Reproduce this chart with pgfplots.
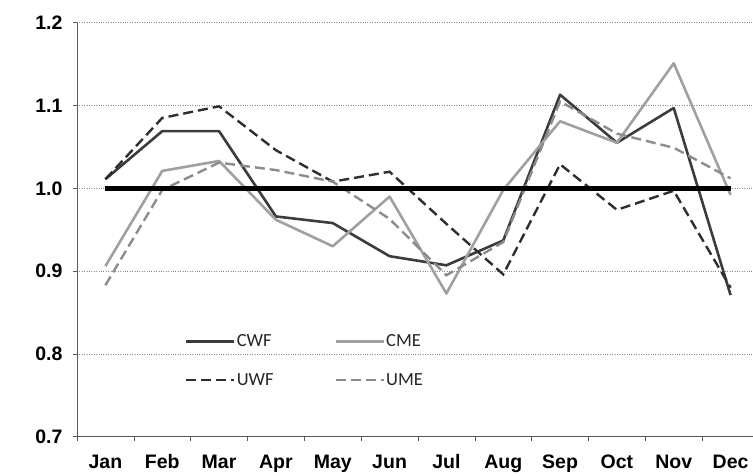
\documentclass[border=0pt]{standalone}
\usepackage{fontspec}
\setmainfont{Liberation Sans}
\newfontfamily\legfont{Carlito}
\usepackage{pgfplots}
\pgfplotsset{compat=1.18}
\definecolor{cwf}{HTML}{3C3C3C}
\definecolor{cme}{HTML}{A0A0A0}
\definecolor{uwf}{HTML}{2E2E2E}
\definecolor{ume}{HTML}{8C8C8C}
\begin{document}
\begin{tikzpicture}
\begin{axis}[
  at={(0,0)}, anchor=south west,
  scale only axis, width=682pt, height=414pt,
  xmin=-0.5, xmax=11.5, ymin=0.7, ymax=1.2,
  xtick={-0.5,0.5,1.5,2.5,3.5,4.5,5.5,6.5,7.5,8.5,9.5,10.5,11.5},
  x tick label as interval,
  xticklabels={Jan,Feb,Mar,Apr,May,Jun,Jul,Aug,Sep,Oct,Nov,Dec},
  ytick={0.7,0.8,0.9,1.0,1.1,1.2},
  yticklabel style={xshift=-7pt, /pgf/number format/.cd, fixed, fixed zerofill, precision=1},
  /pgf/number format/assume math mode=true,
  ticklabel style={font=\fontsize{19.5}{19.5}\selectfont\bfseries, text=black},
  xticklabel style={anchor=north, yshift=-10pt, text height=14pt, text depth=4pt},
  axis x line*=bottom, axis y line*=left,
  axis line style={black!65, line width=0.8pt},
  tick align=outside, major tick length=4pt,
  tick style={black!65, line width=0.6pt},
  ymajorgrids, grid style={black!45, dotted, line width=0.7pt},
  legend columns=2,
  legend cell align=left,
  legend image code/.code={\draw[#1] (0pt,0pt) -- (48pt,0pt);},
  legend style={at={(axis cs:1.40,0.7916)}, anchor=west, draw=none, fill=none,
    inner sep=0pt, row sep=23pt,
    font=\legfont\fontsize{18.5}{18.5}\selectfont, text=black!85,
    nodes={inner sep=1pt},
    /tikz/every even column/.append style={column sep=60pt}},
]
\addplot[cwf, line width=2.6pt, line join=round] coordinates {
 (0,1.011) (1,1.069) (2,1.069) (3,0.966) (4,0.958) (5,0.918)
 (6,0.907) (7,0.937) (8,1.113) (9,1.055) (10,1.097) (11,0.871)};
\addlegendentry{CWF}
\addplot[cme, line width=2.6pt, line join=round] coordinates {
 (0,0.906) (1,1.021) (2,1.033) (3,0.962) (4,0.930) (5,0.990)
 (6,0.873) (7,0.998) (8,1.081) (9,1.055) (10,1.151) (11,0.992)};
\addlegendentry{CME}
\addplot[uwf, line width=2.4pt, dash pattern=on 10pt off 5pt] coordinates {
 (0,1.011) (1,1.085) (2,1.099) (3,1.046) (4,1.008) (5,1.020)
 (6,0.957) (7,0.896) (8,1.029) (9,0.974) (10,0.997) (11,0.880)};
\addlegendentry{UWF}
\addplot[ume, line width=2.4pt, dash pattern=on 10pt off 5pt] coordinates {
 (0,0.883) (1,0.998) (2,1.031) (3,1.022) (4,1.008) (5,0.963)
 (6,0.895) (7,0.935) (8,1.105) (9,1.066) (10,1.049) (11,1.012)};
\addlegendentry{UME}
\addplot[black, line width=4.5pt, forget plot] coordinates {(0,1.0) (11,1.0)};
\end{axis}
\pgfresetboundingbox
\useasboundingbox (-77pt,-39.3pt) rectangle (676pt,436.7pt);
\end{tikzpicture}
\end{document}
